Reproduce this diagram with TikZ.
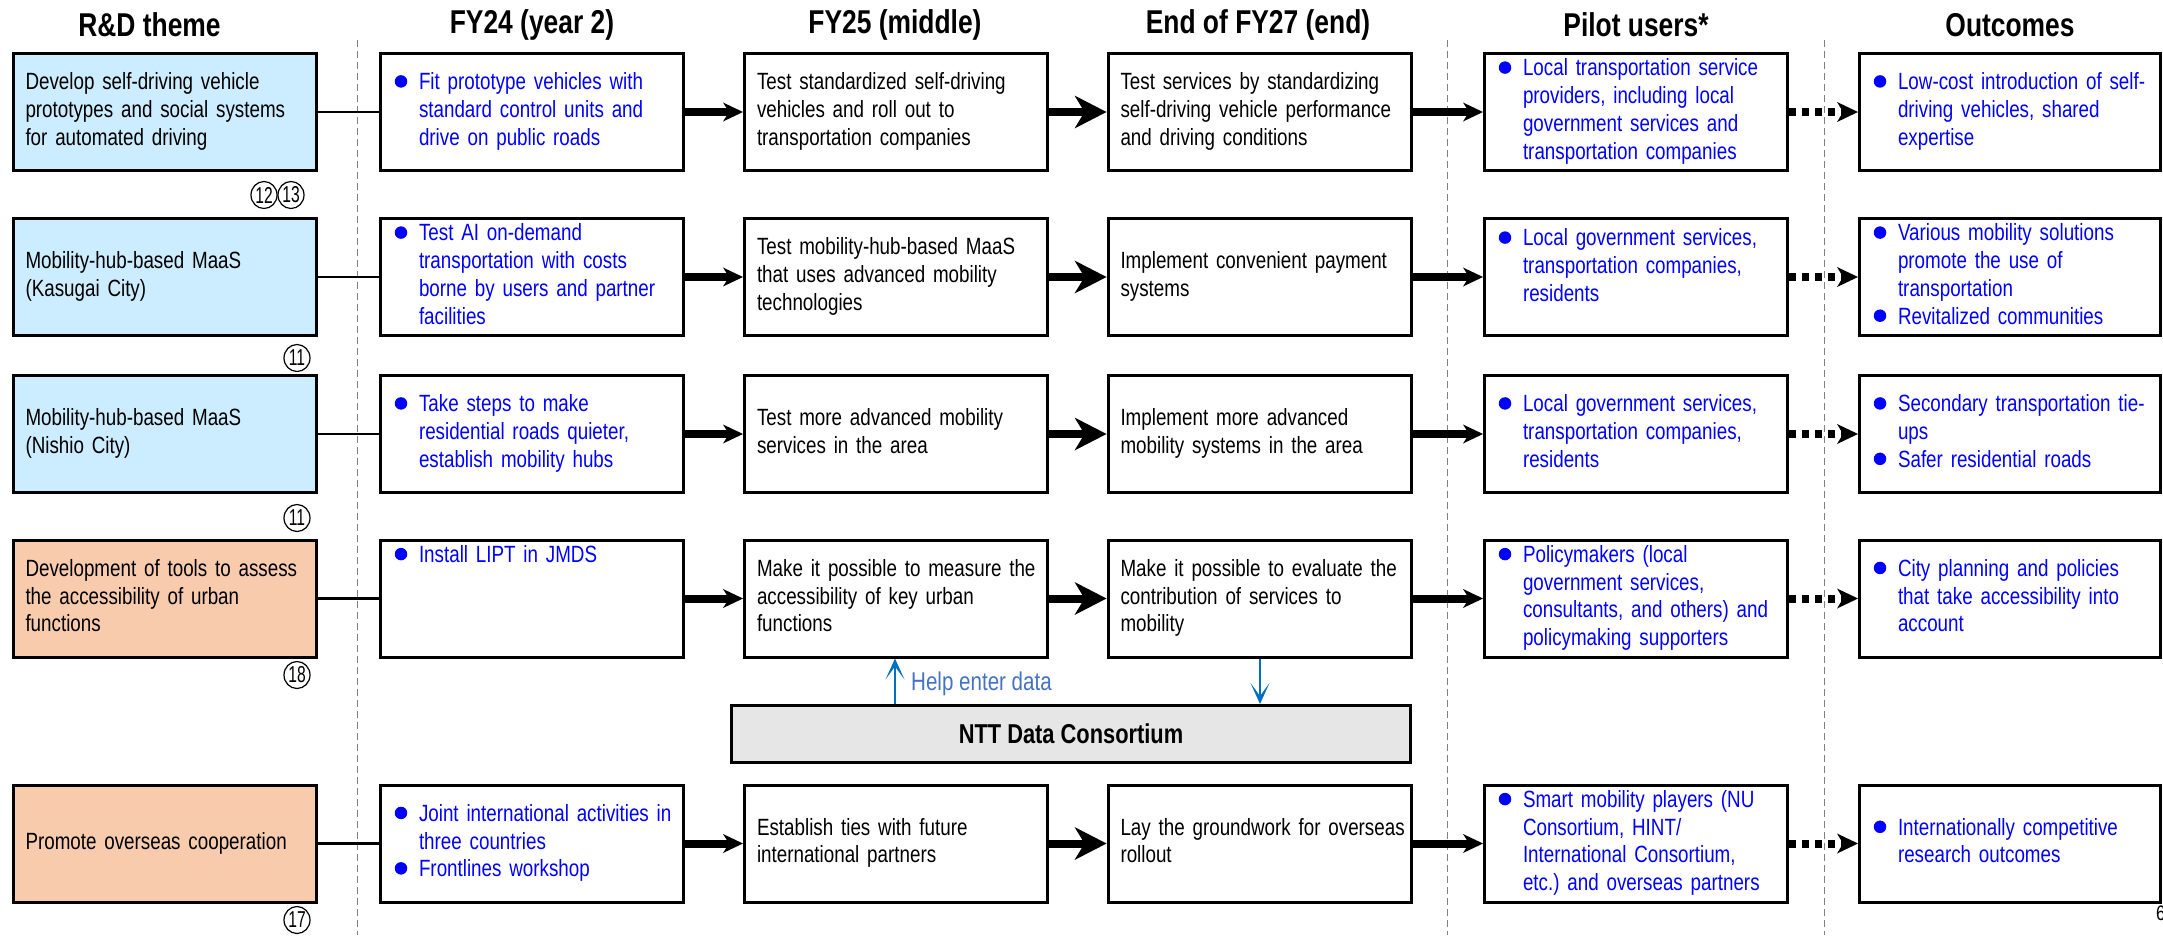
\documentclass[tikz,border=0pt]{standalone}
\usepackage{fontspec}
\setmainfont{Liberation Sans}[FakeStretch=0.80]
\usetikzlibrary{arrows.meta,shapes.geometric}

\definecolor{themeblue}{HTML}{CCECFF}
\definecolor{themepeach}{HTML}{F8CBAD}
\definecolor{consgray}{HTML}{E6E6E6}
\definecolor{itemblue}{HTML}{0000FF}
\definecolor{linkblue}{HTML}{0070C0}
\definecolor{noteblue}{HTML}{4472C4}
\definecolor{sepgray}{HTML}{808080}

\frenchspacing
% blue round bullet followed by the hanging indent of the item text
\newcommand\bdot{\makebox[26pt][l]{\hspace{1.75pt}\tikz[baseline=0pt]\fill[itemblue] (0pt,8.4pt) circle[radius=6.25pt];}}
\newcommand\plain[1]{\noindent\begin{tabular}{@{}l@{}}#1\end{tabular}}
\newcommand\items[1]{\noindent\begin{tabular}{@{}l@{}l@{}}#1\end{tabular}}
\newcommand\tagnum[1]{\scalebox{0.85}[1]{#1}}

\tikzset{
  card/.style={draw=black, line width=3pt, fill=white, minimum width=303pt,
    minimum height=117pt, inner xsep=12.5pt, inner ysep=0pt, text width=278pt,
    align=left, font=\fontsize{23.5}{27.7}\selectfont},
  lastcard/.style={card, minimum width=301pt, text width=276pt},
  bluecard/.style={card, fill=themeblue},
  peachcard/.style={card, fill=themepeach},
  itemtext/.style={text=itemblue},
  head/.style={font=\bfseries\fontsize{33}{38}\selectfont, inner sep=0pt},
  tag/.style={ellipse, draw, line width=1.2pt, minimum width=26pt,
    minimum height=27pt, inner sep=0pt, font=\fontsize{23}{23}\selectfont},
  link/.style={line width=2.5pt},
  flow/.style={line width=8pt, -{Stealth[length=20pt,width=19pt,inset=6pt,line width=0pt]}},
  bigflow/.style={line width=8pt, -{Stealth[length=32pt,width=33pt,inset=10pt,line width=0pt]}},
  dotflow/.style={line width=8pt, dash pattern=on 7pt off 6pt,
    -{Stealth[length=21pt,width=20pt,inset=6pt,line width=0pt]}},
  assist/.style={draw=linkblue, line width=2.5pt,
    -{Stealth[length=21pt,width=19pt,inset=13pt,line width=0pt]}},
  sep/.style={draw=sepgray, line width=1pt, dash pattern=on 7pt off 4pt},
}

\begin{document}
\begin{tikzpicture}[x=1pt,y=-1pt]
\useasboundingbox (0,0) rectangle (2163,935);

% column separators
\coordinate (s1t) at (357,40);  \coordinate (s1b) at (357,935);
\coordinate (s2t) at (1447,40); \coordinate (s2b) at (1447,935);
\coordinate (s3t) at (1824,40); \coordinate (s3b) at (1824,935);
\draw[sep] (s1t) -- (s1b);
\draw[sep] (s2t) -- (s2b);
\draw[sep] (s3t) -- (s3b);

% column headings
\node[head] (hA) at (149.5,25) {R\&D theme};
\node[head] (hB) at (532,25) {FY24 (year 2)};
\node[head] (hC) at (895,25) {FY25 (middle)};
\node[head] (hD) at (1258,25) {End of FY27 (end)};
\node[head] (hE) at (1636,25) {Pilot users*};
\node[head] (hF) at (2010,25) {Outcomes};

% ---- row 1
\node[bluecard] (a1) at (164.5,112) {\plain{Develop self-driving vehicle\\prototypes and social systems\\for automated driving}};
\node[card,itemtext] (b1) at (532,112) {\items{\bdot & Fit prototype vehicles with\\ & standard control units and\\ & drive on public roads}};
\node[card] (c1) at (896,112) {\plain{Test standardized self-driving\\vehicles and roll out to\\transportation companies}};
\node[card] (d1) at (1259.5,112) {\plain{Test services by standardizing\\self-driving vehicle performance\\and driving conditions}};
\node[card,itemtext] (e1) at (1636,112) {\items{\bdot & Local transportation service\\ & providers, including local\\ & government services and\\ & transportation companies}};
\node[lastcard,itemtext] (f1) at (2010,112) {\items{\bdot & Low-cost introduction of self-\\ & driving vehicles, shared\\ & expertise}};
\node[tag] (n12) at (264,195) {\tagnum{12}};
\node[tag] (n13) at (291,195) {\tagnum{13}};

% ---- row 2
\node[bluecard] (a2) at (164.5,277) {\plain{Mobility-hub-based MaaS\\(Kasugai City)}};
\node[card,itemtext] (b2) at (532,277) {\items{\bdot & Test AI on-demand\\ & transportation with costs\\ & borne by users and partner\\ & facilities}};
\node[card] (c2) at (896,277) {\plain{Test mobility-hub-based MaaS\\that uses advanced mobility\\technologies}};
\node[card] (d2) at (1259.5,277) {\plain{Implement convenient payment\\systems}};
\node[card,itemtext] (e2) at (1636,277) {\items{\bdot & Local government services,\\ & transportation companies,\\ & residents\\[-10pt] & }};
\node[lastcard,itemtext] (f2) at (2010,277) {\items{\bdot & Various mobility solutions\\ & promote the use of\\ & transportation\\ \bdot & Revitalized communities}};
\node[tag] (n11a) at (297,358) {\tagnum{11}};

% ---- row 3
\node[bluecard] (a3) at (164.5,434) {\plain{Mobility-hub-based MaaS\\(Nishio City)}};
\node[card,itemtext] (b3) at (532,434) {\items{\bdot & Take steps to make\\ & residential roads quieter,\\ & establish mobility hubs}};
\node[card] (c3) at (896,434) {\plain{Test more advanced mobility\\services in the area}};
\node[card] (d3) at (1259.5,434) {\plain{Implement more advanced\\mobility systems in the area}};
\node[card,itemtext] (e3) at (1636,434) {\items{\bdot & Local government services,\\ & transportation companies,\\ & residents}};
\node[lastcard,itemtext] (f3) at (2010,434) {\items{\bdot & Secondary transportation tie-\\ & ups\\ \bdot & Safer residential roads}};
\node[tag] (n11b) at (297,518) {\tagnum{11}};

% ---- row 4
\node[peachcard] (a4) at (164.5,598.5) {\plain{Development of tools to assess\\the accessibility of urban\\functions}};
\node[card,itemtext] (b4) at (532,598.5) {\items{\bdot & Install LIPT in JMDS\\ & \\ & \\ & }};
\node[card] (c4) at (896,598.5) {\plain{Make it possible to measure the\\accessibility of key urban\\functions}};
\node[card] (d4) at (1259.5,598.5) {\plain{Make it possible to evaluate the\\contribution of services to\\mobility}};
\node[card,itemtext] (e4) at (1636,598.5) {\items{\bdot & Policymakers (local\\ & government services,\\ & consultants, and others) and\\ & policymaking supporters}};
\node[lastcard,itemtext] (f4) at (2010,598.5) {\items{\bdot & City planning and policies\\ & that take accessibility into\\ & account}};
\node[tag] (n18) at (297,675) {\tagnum{18}};

% consortium support
\node[draw=black, line width=3pt, fill=consgray, minimum width=679pt, minimum height=57pt,
      font=\bfseries\fontsize{27.3}{31}\selectfont] (ntt) at (1071,734) {NTT Data Consortium};
\coordinate (hx) at (895,0);
\coordinate (dx) at (1260,0);
\draw[assist] (ntt.north -| hx) -- (c4.south -| hx);
\draw[assist] (d4.south -| dx) -- (ntt.north -| dx);
\node[anchor=west, inner sep=0pt, text=noteblue, font=\fontsize{25.7}{29}\selectfont] (help) at (911,684) {Help enter data};

% ---- row 5
\node[peachcard] (a5) at (164.5,843.5) {\plain{Promote overseas cooperation}};
\node[card,itemtext] (b5) at (532,843.5) {\items{\bdot & Joint international activities in\\ & three countries\\ \bdot & Frontlines workshop}};
\node[card] (c5) at (896,843.5) {\plain{Establish ties with future\\international partners}};
\node[card] (d5) at (1259.5,843.5) {\plain{Lay the groundwork for overseas\\rollout}};
\node[card,itemtext] (e5) at (1636,843.5) {\items{\bdot & Smart mobility players (NU\\ & Consortium, HINT/\\ & International Consortium,\\ & etc.) and overseas partners}};
\node[lastcard,itemtext] (f5) at (2010,843.5) {\items{\bdot & Internationally competitive\\ & research outcomes}};
\node[tag] (n17) at (297,920) {\tagnum{17}};

% connectors between the stages of every row
\foreach \r in {1,...,5}{
  \draw[link] (a\r.east) -- (b\r.west);
  \draw[flow] (b\r.east) -- (c\r.west);
  \draw[bigflow] (c\r.east) -- (d\r.west);
  \draw[flow] (d\r.east) -- (e\r.west);
  \draw[dotflow] (e\r.east) -- (f\r.west);
}

% page number
\node[anchor=west, inner sep=0pt, font=\fontsize{21}{21}\selectfont] (pg) at (2156,913) {6};
\end{tikzpicture}
\end{document}
